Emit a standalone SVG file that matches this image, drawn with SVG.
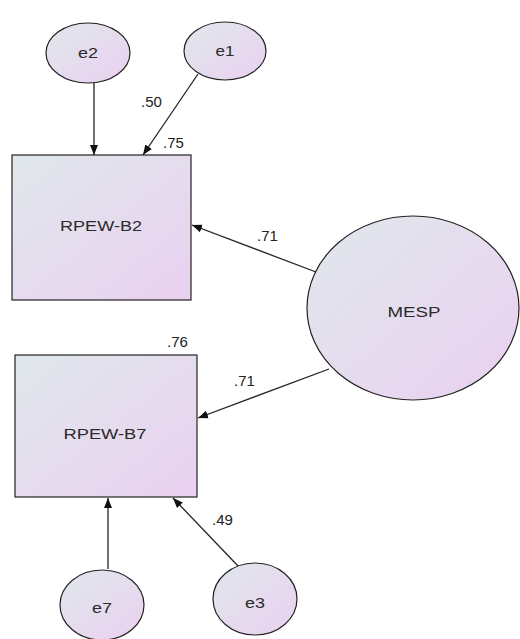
<svg xmlns="http://www.w3.org/2000/svg" width="520" height="639" viewBox="0 0 520 639">
<style>
.n{stroke:#222;stroke-width:1.2;fill:url(#g)}
.t{font-family:"Liberation Sans",Arial,sans-serif;font-size:15px;fill:#2a2a2a;text-anchor:middle}
.l{font-family:"Liberation Sans",Arial,sans-serif;font-size:15px;fill:#222}
.c{stroke:#222;stroke-width:1.3;fill:none;marker-end:url(#a)}
</style>
<defs>
<linearGradient id="g" x1="0" y1="0" x2="1" y2="1">
<stop offset="0" stop-color="#e0e8ec"/>
<stop offset="1" stop-color="#ead0f0"/>
</linearGradient>
<marker id="a" viewBox="0 0 10 10" refX="10" refY="5" markerWidth="10" markerHeight="10" markerUnits="userSpaceOnUse" orient="auto">
<path d="M0,1 L10,5 L0,9 z" fill="#111"/>
</marker>
</defs>
<rect width="520" height="639" fill="#fff"/>
<g id="connectors">
<line class="c" x1="94" y1="83" x2="94" y2="155"/>
<line class="c" x1="198" y1="74" x2="143" y2="155"/>
<line class="c" x1="316" y1="272" x2="192" y2="225"/>
<line class="c" x1="329" y1="369" x2="198" y2="418"/>
<line class="c" x1="108" y1="569" x2="108" y2="498"/>
<line class="c" x1="239" y1="567" x2="173" y2="498"/>
</g>
<g id="e2"><ellipse class="n" cx="88" cy="53" rx="42" ry="30"/><text class="t" x="88" y="58" textLength="20" lengthAdjust="spacingAndGlyphs">e2</text></g>
<g id="e1"><ellipse class="n" cx="225" cy="51" rx="41" ry="29"/><text class="t" x="225" y="56" textLength="19" lengthAdjust="spacingAndGlyphs">e1</text></g>
<g id="RPEW-B2"><rect class="n" x="12" y="155" width="179" height="145"/><text class="t" x="101" y="231" textLength="82" lengthAdjust="spacingAndGlyphs">RPEW-B2</text><text class="l" x="163" y="148">.75</text></g>
<g id="RPEW-B7"><rect class="n" x="15" y="355" width="182" height="142"/><text class="t" x="105" y="439" textLength="83" lengthAdjust="spacingAndGlyphs">RPEW-B7</text><text class="l" x="167" y="347">.76</text></g>
<g id="MESP"><ellipse class="n" cx="413" cy="308" rx="106" ry="92"/><text class="t" x="414" y="317" textLength="53" lengthAdjust="spacingAndGlyphs">MESP</text></g>
<g id="e7"><ellipse class="n" cx="102" cy="605" rx="42" ry="35"/><text class="t" x="102" y="613" textLength="20" lengthAdjust="spacingAndGlyphs">e7</text></g>
<g id="e3"><ellipse class="n" cx="255" cy="599" rx="42" ry="36"/><text class="t" x="255" y="608" textLength="20" lengthAdjust="spacingAndGlyphs">e3</text></g>
<g id="labels">
<text class="l" x="141" y="107">.50</text>
<text class="l" x="257" y="241">.71</text>
<text class="l" x="234" y="386">.71</text>
<text class="l" x="212" y="525">.49</text>
</g>
</svg>
